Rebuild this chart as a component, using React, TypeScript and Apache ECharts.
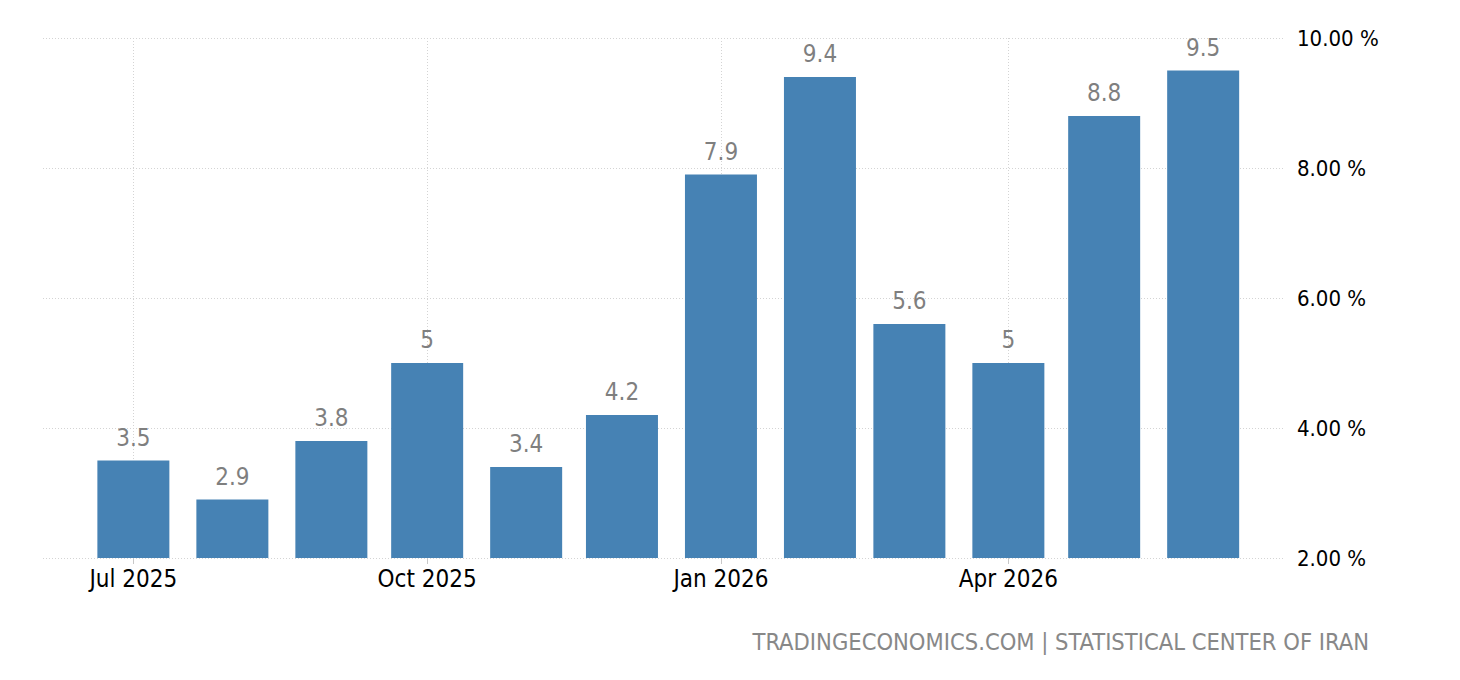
import React, { useEffect, useRef } from "react";
import * as echarts from "echarts";

const months: string[] = [
  "2025-07", "2025-08", "2025-09", "2025-10", "2025-11", "2025-12",
  "2026-01", "2026-02", "2026-03", "2026-04", "2026-05", "2026-06",
];
const values: number[] = [3.5, 2.9, 3.8, 5, 3.4, 4.2, 7.9, 9.4, 5.6, 5, 8.8, 9.5];
const tickMonths: string[] = ["2025-07", "2025-10", "2026-01", "2026-04"];
const monthNames: string[] = ["Jan", "Feb", "Mar", "Apr", "May", "Jun", "Jul", "Aug", "Sep", "Oct", "Nov", "Dec"];
const yTicks: number[] = [2, 4, 6, 8, 10];
const sourceText = "TRADINGECONOMICS.COM | STATISTICAL CENTER OF IRAN";

const DAY = 86400000;
const toTs = (m: string) => {
  const [y, mo] = m.split("-").map(Number);
  return Date.UTC(y, mo - 1, 1);
};

const FONT = "'DejaVu Sans Condensed', 'DejaVu Sans', sans-serif";

export default function App() {
  const ref = useRef<HTMLDivElement>(null);
  useEffect(() => {
    if (!ref.current) return;
    const chart = echarts.init(ref.current, undefined, { renderer: "svg" });
    const tickTs = tickMonths.map(toTs);
    const xMin = toTs("2025-07") - 28.3 * DAY;
    const xMax = toTs("2026-04") + 86 * DAY;
    chart.setOption({
      animation: false,
      grid: { left: 43, right: 177, top: 38, bottom: 122, containLabel: false },
      xAxis: {
        type: "value",
        min: xMin,
        max: xMax,
        axisLine: { show: false },
        axisTick: {
          show: true,
          customValues: tickTs,
          length: 6,
          lineStyle: { color: "#c8c8c8" },
        },
        axisLabel: {
          customValues: tickTs,
          formatter: (v: number) => {
            const d = new Date(v);
            return monthNames[d.getUTCMonth()] + " " + d.getUTCFullYear();
          },
          color: "#000",
          fontSize: 24,
          fontFamily: FONT,
          margin: 9,
        },
        splitLine: {
          show: true,
          lineStyle: { color: "#d4d4d4", type: [1, 2], width: 1 },
        },
      },
      yAxis: {
        type: "value",
        position: "right",
        min: yTicks[0],
        max: yTicks[yTicks.length - 1],
        interval: 2,
        axisLine: { show: false },
        axisTick: { show: false },
        axisLabel: {
          formatter: (v: number) => v.toFixed(2) + " %",
          color: "#000",
          fontSize: 22,
          fontFamily: FONT,
          margin: 14,
        },
        splitLine: {
          show: true,
          lineStyle: { color: "#d4d4d4", type: [1, 2], width: 1 },
        },
      },
      series: [
        {
          type: "bar",
          barWidth: 72,
          data: months.map((m, i) => [toTs(m), values[i]]),
          itemStyle: { color: "#4682b4" },
          label: {
            show: true,
            position: "top",
            distance: 11,
            color: "#7f7f7f",
            fontSize: 24,
            fontFamily: FONT,
            formatter: (p: any) => String(p.value[1]),
          },
        },
      ],
      graphic: [
        {
          type: "text",
          right: 91,
          top: 630,
          style: {
            text: sourceText,
            fill: "#888",
            fontSize: 23.5,
            fontFamily: FONT,
          },
        },
      ],
    });
    return () => chart.dispose();
  }, []);
  return (
    <div
      ref={ref}
      style={{ position: "fixed", left: 0, top: 0, width: 1460, height: 680, background: "#fff" }}
    />
  );
}
